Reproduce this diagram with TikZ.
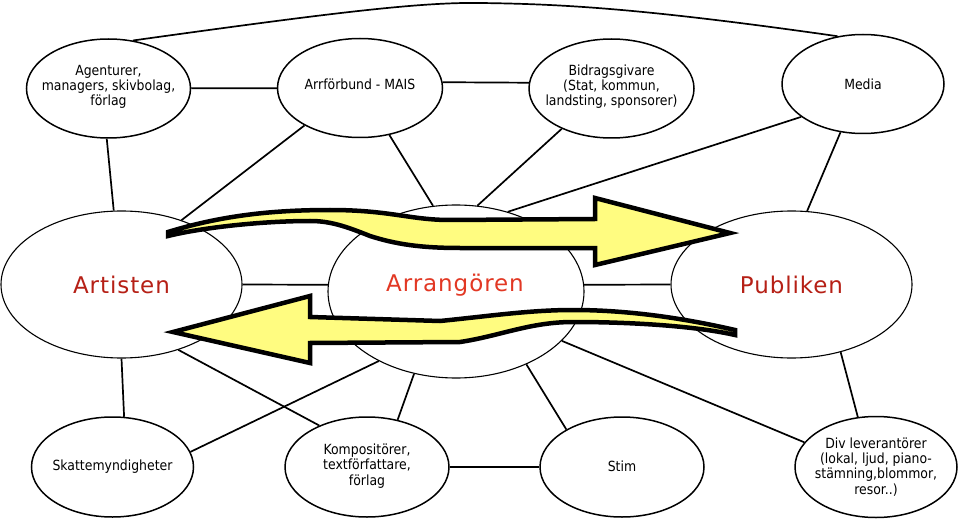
\documentclass[tikz,border=0pt]{standalone}
\usepackage{fontspec}
\setmainfont{DejaVu Sans}
\newfontfamily\bigfam[LetterSpace=4]{DejaVu Sans}
\newfontfamily\smallfam[FakeStretch=0.89]{DejaVu Sans}
\usetikzlibrary{shapes.geometric}
\definecolor{arrowyellow}{RGB}{255,252,128}
\definecolor{darkred}{RGB}{182,32,22}
\definecolor{brightred}{RGB}{226,56,36}
\tikzset{
  ell/.style={draw, ellipse, fill=white, inner sep=0pt, line width=1.5pt},
  bigell/.style={draw, ellipse, fill=white, inner sep=0pt, line width=1.1pt},
  conn/.style={line width=1.7pt},
  txt/.style={align=center, inner sep=0pt, font=\smallfam\fontsize{14}{15.2}\selectfont},
  bigtxt/.style={inner sep=0pt, font=\bigfam\fontsize{23}{26}\selectfont},
  fatarrow/.style={fill=arrowyellow, draw=black, line width=4.5pt, line join=miter}
}
\begin{document}
\begin{tikzpicture}[x=1pt, y=-1pt]
\useasboundingbox (0,0) rectangle (960,521);
% top row
\node[ell, minimum width=164, minimum height=99] (ag) at (108.5,88.5) {};
\node[ell, minimum width=165, minimum height=99] (arr) at (360,88) {};
\node[ell, minimum width=165, minimum height=99] (bid) at (611.5,88.5) {};
\node[ell, minimum width=162, minimum height=99] (media) at (863,84) {};
% middle row
\node[bigell, minimum width=241, minimum height=147] (art) at (121.5,284.5) {};
\node[bigell, minimum width=256, minimum height=173] (arrang) at (456,291.5) {};
\node[bigell, minimum width=241, minimum height=147] (pub) at (791.5,284.5) {};
% bottom row
\node[ell, minimum width=162, minimum height=100] (skatt) at (112.5,467) {};
\node[ell, minimum width=164, minimum height=100] (komp) at (367,467) {};
\node[ell, minimum width=164, minimum height=100] (stim) at (622,467) {};
\node[ell, minimum width=162, minimum height=101] (div) at (876,467) {};
% texts
\node[txt] (agt) at (108.5,87) {Agenturer,\\managers, skivbolag,\\förlag};
\node[txt] (arrt) at (360,84.5) {Arrförbund - MAIS};
\node[txt] (bidt) at (611.5,86.5) {Bidragsgivare\\(Stat, kommun,\\landsting, sponsorer)};
\node[txt] (mediat) at (863,84) {Media};
\node[bigtxt, text=darkred] (artt) at (art) {Artisten};
\node[bigtxt, text=brightred] (arrangt) at (455,285) {Arrangören};
\node[bigtxt, text=darkred] (pubt) at (pub) {Publiken};
\node[txt] (skattt) at (skatt) {Skattemyndigheter};
\node[txt] (kompt) at (367,466) {Kompositörer,\\textförfattare,\\förlag};
\node[txt] (stimt) at (622,466) {Stim};
\node[txt] (divt) at (876,467) {Div leverantörer\\(lokal, ljud, piano-\\stämning,blommor,\\resor..)};
% connectors
\draw[conn] (ag) -- (arr);
\draw[conn] (arr.4) -- (bid.176);
\draw[conn] (ag.63) .. controls (330,13) and (420,2) .. (480,3) .. controls (560,4) and (640,8) .. (media.118);
\draw[conn] (ag.268) -- (art.96);
\draw[conn] (arr.-146) -- (art.47);
\draw[conn] (arr.-58) -- (arrang.105);
\draw[conn] (bid.-141) -- (arrang.76);
\draw[conn] (media.208) -- (arrang.57);
\draw[conn] (media.-115) -- (pub.78);
\draw[conn] (art.east) -- (arrang.177);
\draw[conn] (arrang.3) -- (pub.west);
\draw[conn] (art.270) -- (skatt.77);
\draw[conn] (art.-49) -- (komp.139);
\draw[conn] (arrang.-138) -- (skatt.11);
\draw[conn] (arrang.-117) -- (komp.57);
\draw[conn] (arrang.-46) -- (stim.146);
\draw[conn] (arrang.-25) -- (div.161);
\draw[conn] (pub.-54) -- (div.110);
\draw[conn] (komp) -- (stim);
% wavy arrows
\draw[fatarrow] (168,232) .. controls (220,216) and (270,210) .. (330,210)
  .. controls (390,210) and (410,220) .. (450,220) -- (595,219) -- (595,198)
  -- (730,233) -- (595,265) -- (595,248) -- (460,248)
  .. controls (420,248) and (395,244) .. (370,236)
  .. controls (345,226) and (330,221) .. (310,221)
  .. controls (260,221) and (200,228) .. (168,236) -- cycle;
\draw[fatarrow] (310,317) -- (440,321) .. controls (490,316) and (530,310) .. (573,310)
  .. controls (640,310) and (700,322) .. (735,330) -- (735,335)
  .. controls (700,327) and (640,322) .. (573,322)
  .. controls (530,322) and (500,336) .. (460,342) -- (310,343) -- (310,363)
  -- (173,332) -- (310,296) -- cycle;
\end{tikzpicture}
\end{document}
